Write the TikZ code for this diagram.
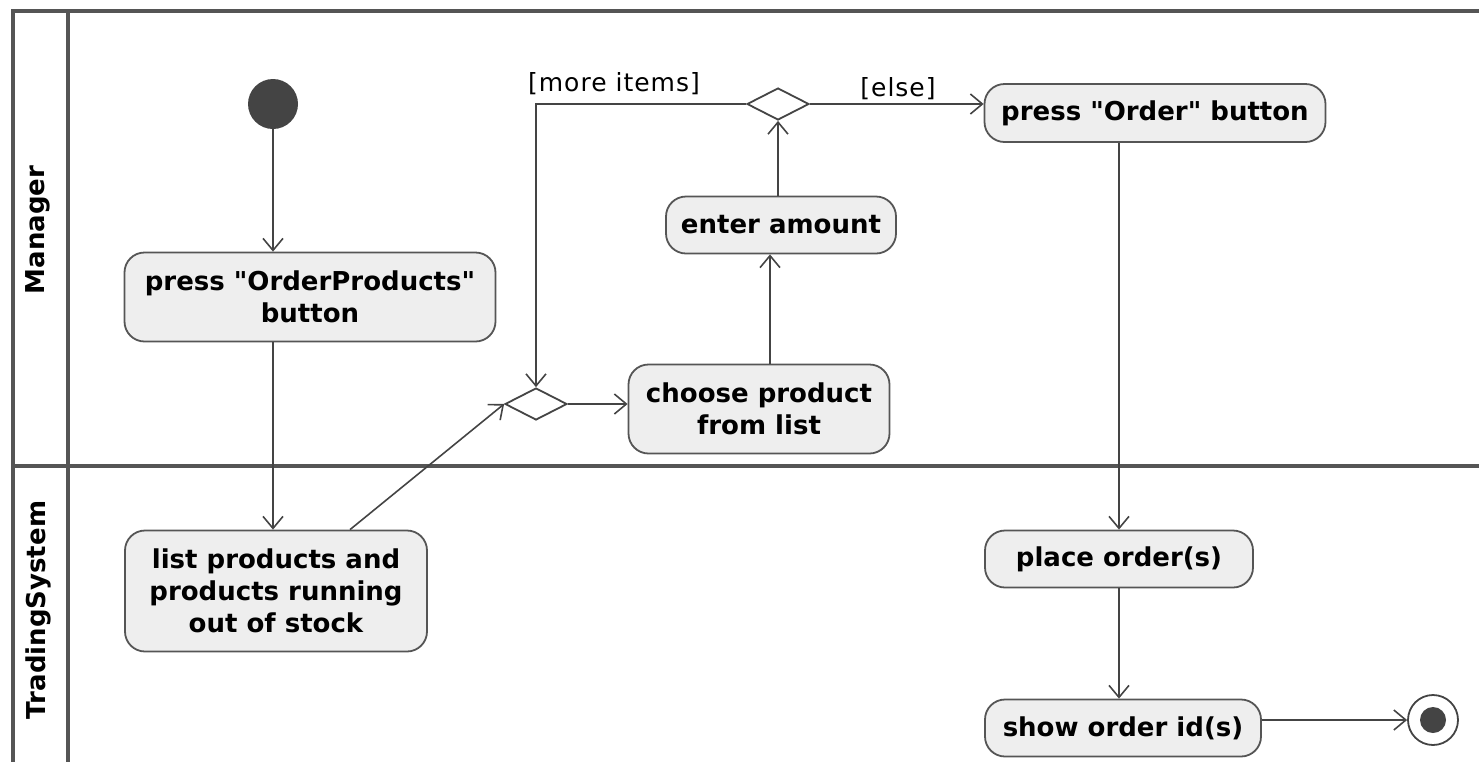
\documentclass[tikz,border=0pt]{standalone}
\usepackage{fontspec}
\setmainfont{DejaVu Sans}
\newfontfamily\guardfont[LetterSpace=4]{DejaVu Sans}
\usetikzlibrary{arrows.meta,shapes.geometric}
\definecolor{ink}{HTML}{444444}
\definecolor{lane}{HTML}{555555}
\definecolor{boxfill}{HTML}{EEEEEE}
\begin{document}
\begin{tikzpicture}[x=0.5pt,y=-0.5pt,
  lanerule/.style={draw=lane,line width=1.6pt},
  action/.style={draw=lane,fill=boxfill,line width=0.9pt,rounded corners=10pt,
    inner sep=0pt,align=center,font=\bfseries\fontsize{13}{16}\selectfont},
  branch/.style={draw=ink,diamond,fill=white,line width=0.9pt,inner sep=0pt,
    minimum width=31pt,minimum height=16pt},
  arr/.style={draw=ink,line width=0.8pt,-{Straight Barb[length=6pt,width=10pt,line width=0.8pt]}},
  guard/.style={font=\guardfont\fontsize{12.5}{14}\selectfont,inner sep=0pt},
  lanelabel/.style={rotate=90,font=\bfseries\fontsize{13}{15}\selectfont,inner sep=0pt}]
\useasboundingbox (0,0) rectangle (1479,762);
% swimlane frame
\draw[lanerule] (1479,11) -- (13,11) -- (13,762);
\draw[lanerule] (68,11) -- (68,762);
\draw[lanerule] (13,466) -- (1479,466);
\node[lanelabel] (lmanager) at (38,230) {Manager};
\node[lanelabel] (ltrading) at (38,610) {TradingSystem};
% nodes
\node[circle,fill=ink,minimum size=25pt,inner sep=0pt] (start) at (273,104) {};
\node[action,minimum width=185.5pt,minimum height=44.5pt] (pop) at (310,297) {press \textquotedbl OrderProducts\textquotedbl\\button};
\node[action,minimum width=151pt,minimum height=60.5pt] (list) at (276,591) {list products and\\products running\\out of stock};
\node[branch] (merge) at (536,404) {};
\node[action,minimum width=130.5pt,minimum height=44.5pt] (choose) at (759,409) {choose product\\from list};
\node[action,minimum width=115pt,minimum height=28.5pt] (enter) at (781,225) {enter amount};
\node[branch] (dec) at (778,104) {};
\node[action,minimum width=170.5pt,minimum height=29pt] (po) at (1155,113) {press \textquotedbl Order\textquotedbl\ button};
\node[action,minimum width=134pt,minimum height=28.5pt] (place) at (1119,559) {place order(s)};
\node[action,minimum width=138pt,minimum height=28.5pt] (show) at (1123,728) {show order id(s)};
\node[circle,draw=ink,line width=0.9pt,fill=white,minimum size=25pt,inner sep=0pt] (end) at (1433,720) {};
\node[circle,fill=ink,minimum size=13pt,inner sep=0pt] (endin) at (end) {};
% flows
\draw[arr] (start) -- (start |- pop.north);
\draw[arr] (start |- pop.south) -- (start |- list.north);
\draw[arr] ([xshift=37pt]list.north) -- (merge.west);
\draw[arr] (merge.east) -- (merge.east -| choose.west);
\draw[arr] ([xshift=5.5pt]choose.north) -- ([xshift=5.5pt]choose.north |- enter.south);
\draw[arr] (dec |- enter.north) -- (dec.south);
\draw[arr] (dec.west) -- (merge |- dec) -- (merge.north);
\draw[arr] (dec.east) -- (dec.east -| po.west);
\draw[arr] (place |- po.south) -- (place.north);
\draw[arr] (place.south) -- (place.south |- show.north);
\draw[arr] (end -| show.east) -- (end.west);
% guards
\node[guard] (gmore) at (614,84) {[more items]};
\node[guard] (gelse) at (898,89) {[else]};
\end{tikzpicture}
\end{document}
